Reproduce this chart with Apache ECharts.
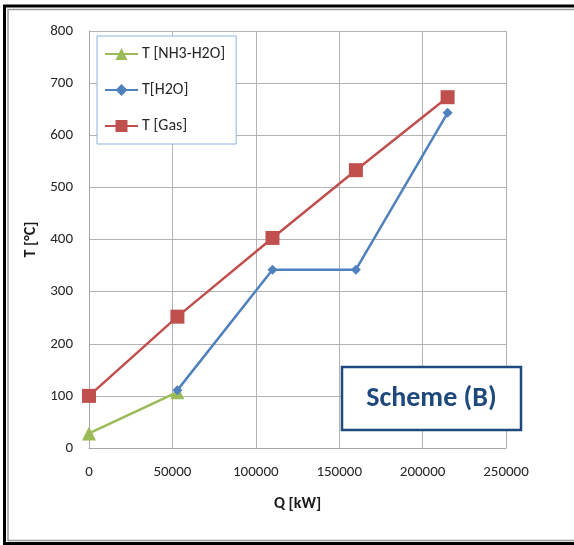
<!DOCTYPE html>
<html>
<head>
<meta charset="utf-8">
<script src="https://cdn.jsdelivr.net/npm/echarts@6/dist/echarts.min.js"></script>
<style>
  html, body { margin: 0; padding: 0; background: #fff; }
  #chart { width: 574px; height: 545px; }
</style>
</head>
<body>
<div id="chart"></div>
<script>
// Heat transfer temperature profiles, Scheme (B)
const qGas = [0, 53000, 110000, 160000, 215000];
const tGas = [100, 252, 403, 533, 673];
const qH2O = [53000, 110000, 160000, 215000];
const tH2O = [111, 342, 342, 643];
const qNH3 = [0, 53000];
const tNH3 = [28, 107];

const seriesNames = ['T [NH3-H2O]', 'T[H2O]', 'T [Gas]'];
const xTicks = { min: 0, max: 250000, interval: 50000 };
const yTicks = { min: 0, max: 800, interval: 100 };

const FONT = 'Carlito, Lato, "Open Sans", sans-serif';
const zip = (xs, ys) => xs.map((x, i) => [x, ys[i]]);

const chart = echarts.init(document.getElementById('chart'), null, { renderer: 'canvas' });

chart.setOption({
  animation: false,
  backgroundColor: '#ffffff',
  textStyle: { fontFamily: FONT },
  grid: { left: 89, top: 31, right: 68, bottom: 97, containLabel: false },
  xAxis: {
    type: 'value',
    min: xTicks.min, max: xTicks.max, interval: xTicks.interval,
    name: 'Q [kW]',
    nameLocation: 'middle',
    nameGap: 48,
    nameTextStyle: { fontFamily: FONT, fontSize: 16, fontWeight: 'bold', color: '#1a1a1a' },
    axisLine: { show: true, lineStyle: { color: '#a6a6a6', width: 1 } },
    axisTick: { show: false },
    axisLabel: { margin: 17, fontFamily: FONT, fontSize: 15, color: '#262626',
                 formatter: v => String(v) },
    splitLine: { show: true, lineStyle: { color: '#b3b3b3', width: 1 } }
  },
  yAxis: {
    type: 'value',
    min: yTicks.min, max: yTicks.max, interval: yTicks.interval,
    name: 'T [°C]',
    nameLocation: 'middle',
    nameGap: 45,
    nameRotate: 90,
    nameTextStyle: { fontFamily: FONT, fontSize: 16, fontWeight: 'bold', color: '#1a1a1a' },
    axisLine: { show: true, lineStyle: { color: '#a6a6a6', width: 1 } },
    axisTick: { show: false },
    axisLabel: { margin: 16, fontFamily: FONT, fontSize: 15, color: '#262626' },
    splitLine: { show: true, lineStyle: { color: '#b3b3b3', width: 1 } }
  },
  legend: {
    orient: 'vertical',
    left: 97, top: 36,
    padding: [10, 11, 10, 7],
    itemGap: 20,
    itemWidth: 33,
    itemHeight: 15,
    backgroundColor: '#ffffff',
    borderColor: '#8eb4e3',
    borderWidth: 1,
    textStyle: { fontFamily: FONT, fontSize: 16, color: '#262626', padding: [0, 0, 0, -1] },
    data: seriesNames
  },
  series: [
    {
      name: seriesNames[0], type: 'line',
      data: zip(qNH3, tNH3),
      symbol: 'triangle', symbolSize: 14,
      lineStyle: { color: '#9bbb59', width: 2.5 },
      itemStyle: { color: '#9bbb59' },
      z: 3
    },
    {
      name: seriesNames[1], type: 'line',
      data: zip(qH2O, tH2O),
      symbol: 'diamond', symbolSize: 10,
      lineStyle: { color: '#4f81bd', width: 2.5 },
      itemStyle: { color: '#4f81bd' },
      z: 4
    },
    {
      name: seriesNames[2], type: 'line',
      data: zip(qGas, tGas),
      symbol: 'rect', symbolSize: 14,
      lineStyle: { color: '#c0504d', width: 2.5 },
      itemStyle: { color: '#c0504d' },
      z: 5
    }
  ],
  graphic: [
    // outer frame
    { type: 'rect', shape: { x: 4.5, y: 6, width: 580, height: 537.5 },
      style: { fill: null, stroke: '#000000', lineWidth: 3 }, z: 100, silent: true },
    { type: 'rect', shape: { x: 8, y: 9.5, width: 580, height: 531 },
      style: { fill: null, stroke: '#9a9a9a', lineWidth: 1.5 }, z: 100, silent: true },
    // scheme label box
    { type: 'rect', shape: { x: 342, y: 367, width: 179, height: 63 },
      style: { fill: '#ffffff', stroke: '#1f497d', lineWidth: 2.5 }, z: 50 },
    { type: 'text', x: 431.5, y: 398.5,
      style: { text: 'Scheme (B)', fontFamily: FONT, fontSize: 28, fontWeight: 'bold',
               fill: '#1f497d', align: 'center', verticalAlign: 'middle' }, z: 51 }
  ]
});
</script>
</body>
</html>
